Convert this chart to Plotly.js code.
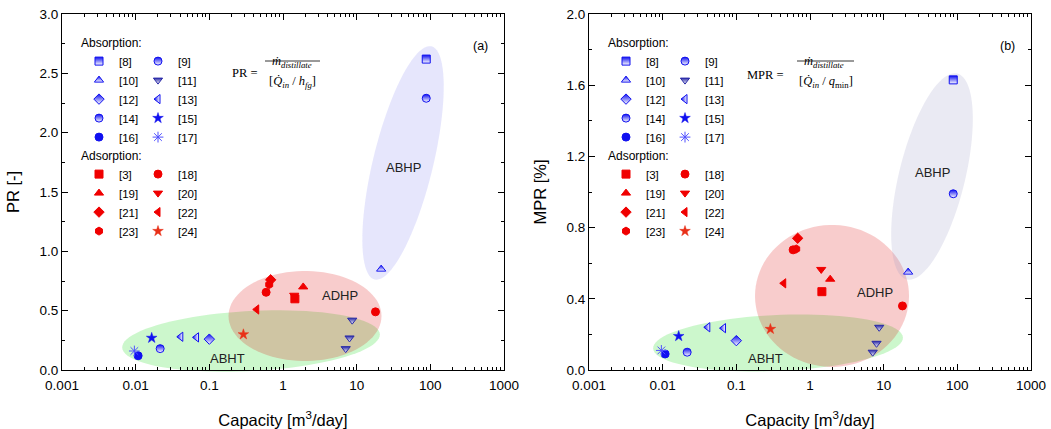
<!DOCTYPE html>
<html><head><meta charset="utf-8">
<script src="https://cdn.plot.ly/plotly-3.0.1.min.js"></script>
<style>html,body{margin:0;padding:0;background:#fff}</style>
</head><body><div id="chart" style="width:1051px;height:429px"></div>
<script>
// ---------------- DATA ----------------
// Capacity in m3/day, PR in [-], MPR in [%]
// Absorption references
const cap8 = [88],   pr8 = [2.62],  mpr8 = [1.63];
const cap9 = [88],   pr9 = [2.29],  mpr9 = [0.99];
const cap10 = [21.5], pr10 = [0.85], mpr10 = [0.55];
const cap11 = [8.7, 8.0, 7.1], pr11 = [0.42, 0.27, 0.18], mpr11 = [0.24, 0.15, 0.10];
const cap12 = [0.1],  pr12 = [0.26], mpr12 = [0.165];
const cap13 = [0.041, 0.067], pr13 = [0.28, 0.275], mpr13 = [0.24, 0.235];
const cap14 = [0.0215], pr14 = [0.18], mpr14 = [0.10];
const cap15 = [0.0165], pr15 = [0.27], mpr15 = [0.19];
const cap16 = [0.0108], pr16 = [0.12], mpr16 = [0.09];
const cap17 = [0.0096], pr17 = [0.16], mpr17 = [0.11];
// Adsorption references
const cap3 = [1.45],  pr3 = [0.60],  mpr3 = [0.44];
const cap18 = [0.59, 18], pr18 = [0.655, 0.49], mpr18 = [0.675, 0.36];
const cap19 = [1.88], pr19 = [0.70], mpr19 = [0.51];
const cap20 = [1.42], pr20 = [0.63], mpr20 = [0.565];
const cap21 = [0.68], pr21 = [0.76], mpr21 = [0.74];
const cap22 = [0.44], pr22 = [0.51], mpr22 = [0.487];
const cap23 = [0.65], pr23 = [0.72], mpr23 = [0.68];
const cap24 = [0.29], pr24 = [0.30], mpr24 = [0.23];

const xTickVals = [0.001, 0.01, 0.1, 1, 10, 100, 1000];
const xTickText = ['0.001', '0.01', '0.1', '1', '10', '100', '1000'];

// Region ellipses: centre (capacity, value)
const regionNames = ['ABHT', 'ADHP', 'ABHP'];
const regionCapA = [0.368, 1.99, 42.6];
const regionValA = [0.2445, 0.455, 1.745];
const regionCapB = [0.368, 1.99, 45.3];
const regionValB = [0.152, 0.416, 1.087];

// ---------------- STYLE ----------------
const BLUE = '#1010f0', NAVY = '#2a2aa8', RED = '#f00000';
const series = [
  // name, cap, pr, mpr, symbol, color, gradient, legend column
  ['[8]',  cap8,  pr8,  mpr8,  'square',        BLUE, 'vertical',   'abs1'],
  ['[10]', cap10, pr10, mpr10, 'triangle-up',   BLUE, 'vertical',   'abs1'],
  ['[12]', cap12, pr12, mpr12, 'diamond',       BLUE, 'vertical',   'abs1'],
  ['[14]', cap14, pr14, mpr14, 'circle',        BLUE, 'vertical',   'abs1'],
  ['[16]', cap16, pr16, mpr16, 'circle',        BLUE, 'none',       'abs1'],
  ['[9]',  cap9,  pr9,  mpr9,  'circle',        BLUE, 'vertical',   'abs2'],
  ['[11]', cap11, pr11, mpr11, 'triangle-down', NAVY, 'vertical',   'abs2'],
  ['[13]', cap13, pr13, mpr13, 'triangle-left', BLUE, 'horizontal', 'abs2'],
  ['[15]', cap15, pr15, mpr15, 'star',          BLUE, 'none',       'abs2'],
  ['[17]', cap17, pr17, mpr17, 'asterisk-open', '#5050ff', 'none',  'abs2'],
  ['[3]',  cap3,  pr3,  mpr3,  'square',        RED, 'none', 'ads1'],
  ['[19]', cap19, pr19, mpr19, 'triangle-up',   RED, 'none', 'ads1'],
  ['[21]', cap21, pr21, mpr21, 'diamond',       RED, 'none', 'ads1'],
  ['[23]', cap23, pr23, mpr23, 'hexagon',       RED, 'none', 'ads1'],
  ['[18]', cap18, pr18, mpr18, 'circle',        RED, 'none', 'ads2'],
  ['[20]', cap20, pr20, mpr20, 'triangle-down', RED, 'none', 'ads2'],
  ['[22]', cap22, pr22, mpr22, 'triangle-left', RED, 'none', 'ads2'],
  ['[24]', cap24, pr24, mpr24, 'star',          '#e83018', 'none', 'ads2'],
];

const traces = [];
['a', 'b'].forEach(function (panel) {
  series.forEach(function (s) {
    const isAbs = s[7].indexOf('abs') === 0;
    const legendId = panel === 'a' ? (isAbs ? 'legend' : 'legend2') : (isAbs ? 'legend3' : 'legend4');
    const sym = s[4];
    const marker = {
      symbol: sym, color: s[5],
      size: sym === 'star' ? 8 : (sym === 'asterisk-open' ? 9 : 8),
      line: {color: s[5], width: sym === 'star' ? 0.5 : 1}
    };
    if (s[6] !== 'none') {
      marker.gradient = {type: s[6], color: '#ffffff'};
    }
    traces.push({
      type: 'scatter', mode: 'markers', name: s[0],
      x: s[1], y: panel === 'a' ? s[2] : s[3],
      xaxis: panel === 'a' ? 'x' : 'x2', yaxis: panel === 'a' ? 'y' : 'y2',
      legend: legendId, legendgroup: panel + s[7],
      marker: marker, hoverinfo: 'x+y+name'
    });
  });
});

// ---------------- LAYOUT ----------------
const W = 1051, H = 429;
const PL = 62, PR_ = 504, PL2 = 589, PR2 = 1031, PT = 14, PB = 370;
const PLOT_W = PR_ - PL, PLOT_H = PB - PT;
const fx = function (px, left) { return (px - left) / PLOT_W; };
const fy = function (py) { return (PB - py) / PLOT_H; };

function ellipsePath(cap, val, yMax, a, b, angDeg) {
  const cx = (Math.log10(cap) + 3) / 6, cy = val / yMax;
  const th = angDeg * Math.PI / 180;
  let d = '';
  for (let i = 0; i <= 90; i++) {
    const t = 2 * Math.PI * i / 90;
    const ux = a * Math.cos(t), uy = b * Math.sin(t);
    const px = ux * Math.cos(th) - uy * Math.sin(th);
    const py = ux * Math.sin(th) + uy * Math.cos(th);
    d += (i ? 'L' : 'M') + (cx + px / PLOT_W).toFixed(5) + ',' + (cy + py / PLOT_H).toFixed(5);
  }
  return d + 'Z';
}

const fills = ['rgba(0,215,0,0.2)', 'rgba(220,0,0,0.2)'];
const shapeGeomA = [[129, 30, 3], [76.5, 45, 0], [120, 30, 76.3]];
const shapeGeomB = [[125, 28, 2.5], [77, 71, 0], [106, 33, 76.2]];
const shapes = [];
regionNames.forEach(function (n, i) {
  const ga = shapeGeomA[i], gb = shapeGeomB[i];
  shapes.push({type: 'path', xref: 'x domain', yref: 'y domain', layer: 'below',
    path: ellipsePath(regionCapA[i], regionValA[i], 3, ga[0], ga[1], ga[2]),
    fillcolor: i < 2 ? fills[i] : 'rgba(115,115,240,0.18)', line: {width: 0}});
  shapes.push({type: 'path', xref: 'x2 domain', yref: 'y2 domain', layer: 'below',
    path: ellipsePath(regionCapB[i], regionValB[i], 2, gb[0], gb[1], gb[2]),
    fillcolor: i < 2 ? fills[i] : 'rgba(150,150,195,0.2)', line: {width: 0}});
});
// fraction bars of the formulas
shapes.push({type: 'line', xref: 'x domain', yref: 'y domain', x0: fx(265, PL), x1: fx(320, PL), y0: fy(61), y1: fy(61), line: {color: '#000', width: 0.8}});
shapes.push({type: 'line', xref: 'x2 domain', yref: 'y2 domain', x0: fx(797, PL2), x1: fx(854, PL2), y0: fy(61), y1: fy(61), line: {color: '#000', width: 0.8}});

const labelFont = {family: 'Liberation Sans, Arial, sans-serif', size: 13, color: '#222'};
const labelPosA = [[0.174, 0.101], [5.94, 0.624], [42.6, 1.703]];
const labelPosB = [[0.245, 0.067], [7.62, 0.433], [46.7, 1.112]];
const annotations = [];
regionNames.forEach(function (n, i) {
  annotations.push({xref: 'x', yref: 'y', x: Math.log10(labelPosA[i][0]), y: labelPosA[i][1], text: n, showarrow: false, font: labelFont});
  annotations.push({xref: 'x2', yref: 'y2', x: Math.log10(labelPosB[i][0]), y: labelPosB[i][1], text: n, showarrow: false, font: labelFont});
});
const serif = {family: 'Liberation Serif, Times New Roman, serif', size: 12.5, color: '#000'};
const num = '<i>ṁ</i><sub><i>distillate</i></sub>';
annotations.push(
  {xref: 'x domain', yref: 'y domain', x: fx(259, PL), y: fy(64), xanchor: 'right', text: 'PR =', showarrow: false, font: serif},
  {xref: 'x domain', yref: 'y domain', x: fx(292, PL), y: fy(52), text: num, showarrow: false, font: serif},
  {xref: 'x domain', yref: 'y domain', x: fx(292, PL), y: fy(72), text: '[<i>Q̇</i><sub><i>in</i></sub> / <i>h</i><sub><i>fg</i></sub>]', showarrow: false, font: serif},
  {xref: 'x2 domain', yref: 'y2 domain', x: fx(786, PL2), y: fy(66), xanchor: 'right', text: 'MPR =', showarrow: false, font: serif},
  {xref: 'x2 domain', yref: 'y2 domain', x: fx(824, PL2), y: fy(52), text: num, showarrow: false, font: serif},
  {xref: 'x2 domain', yref: 'y2 domain', x: fx(826, PL2), y: fy(72), text: '[<i>Q̇</i><sub><i>in</i></sub> / <i>q</i><sub>min</sub>]', showarrow: false, font: serif},
  {xref: 'x domain', yref: 'y domain', x: fx(490, PL), y: fy(37), text: '(a)', showarrow: false, font: {family: 'Liberation Sans, Arial', size: 12.5, color: '#000'}},
  {xref: 'x2 domain', yref: 'y2 domain', x: fx(1017, PL2), y: fy(37), text: '(b)', showarrow: false, font: {family: 'Liberation Sans, Arial', size: 12.5, color: '#000'}}
);

const tickFont = {family: 'Liberation Sans, Arial, sans-serif', size: 13.5, color: '#000'};
const titleFont = {family: 'Liberation Sans, Arial, sans-serif', size: 16.5, color: '#000'};
function xAxis(domain, anchor) {
  return {type: 'log', domain: domain, anchor: anchor, range: [-3, 3], tickmode: 'array',
    tickvals: xTickVals, ticktext: xTickText, ticks: 'inside', ticklen: 6, tickcolor: '#000',
    ticklabelstandoff: 3,
    minor: {dtick: 'D1', ticks: 'inside', ticklen: 3, tickcolor: '#000'},
    showline: true, linecolor: '#000', linewidth: 1, mirror: 'ticks', showgrid: false, zeroline: false,
    tickfont: tickFont, title: {text: 'Capacity [m<sup>3</sup>/day]', font: titleFont}};
}
function yAxis(anchor, max, dt, title) {
  return {domain: [0, 1], anchor: anchor, range: [0, max], dtick: dt, tick0: 0, tickformat: '.1f',
    ticks: 'inside', ticklen: 6, tickcolor: '#000',
    minor: {dtick: dt / 2, ticks: 'inside', ticklen: 3, tickcolor: '#000'},
    showline: true, linecolor: '#000', linewidth: 1, mirror: 'ticks', showgrid: false, zeroline: false,
    tickfont: tickFont, title: {text: title, font: titleFont}};
}
function legendCfg(px, py, title) {
  return {x: px / W, y: fy(py), xref: 'paper', yref: 'paper', xanchor: 'left', yanchor: 'top',
    orientation: 'h', entrywidth: 14, traceorder: 'grouped', bgcolor: 'rgba(0,0,0,0)', borderwidth: 0,
    title: {text: title, side: 'top', font: {family: 'Liberation Sans, Arial', size: 12, color: '#000'}},
    font: {family: 'Liberation Sans, Arial', size: 11.5, color: '#000'}, itemclick: false, itemdoubleclick: false};
}

const layout = {
  width: W, height: H, margin: {l: 0, r: 0, t: PT, b: H - PB},
  paper_bgcolor: '#fff', plot_bgcolor: 'rgba(0,0,0,0)', showlegend: true,
  xaxis: xAxis([PL / W, PR_ / W], 'y'),
  yaxis: yAxis('x', 3, 0.5, 'PR [-]'),
  xaxis2: xAxis([PL2 / W, PR2 / W], 'y2'),
  yaxis2: yAxis('x2', 2, 0.4, 'MPR [%]'),
  legend: legendCfg(79, 31, 'Absorption:'),
  legend2: legendCfg(79, 144, 'Adsorption:'),
  legend3: legendCfg(606, 31, 'Absorption:'),
  legend4: legendCfg(606, 144, 'Adsorption:'),
  shapes: shapes, annotations: annotations
};

Plotly.newPlot('chart', traces, layout, {displayModeBar: false, staticPlot: true});
</script></body></html>
